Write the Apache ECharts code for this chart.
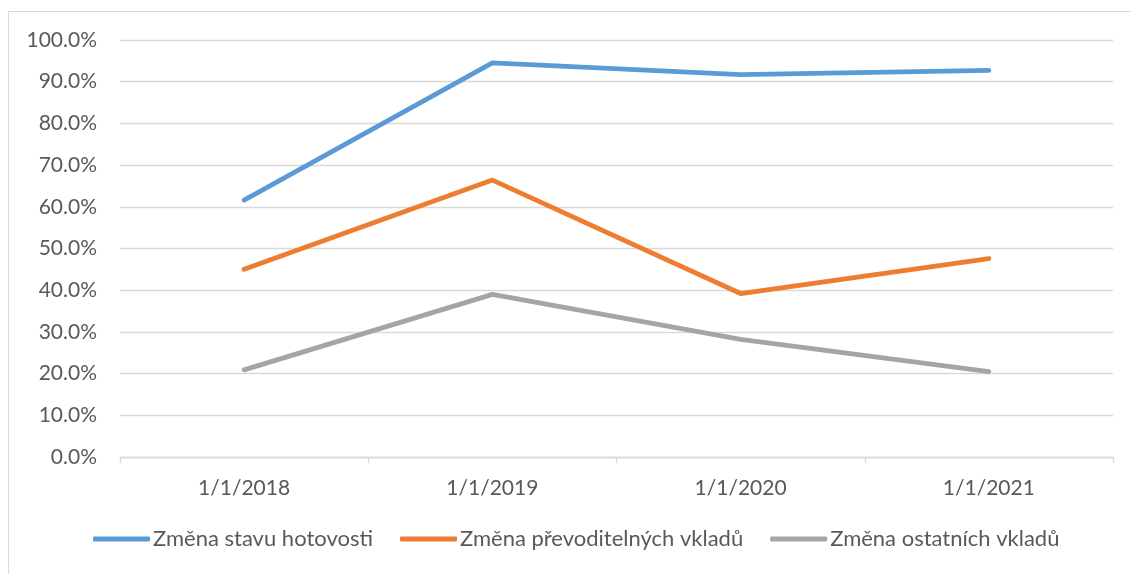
<!DOCTYPE html>
<html>
<head>
<meta charset="utf-8">
<script src="https://cdn.jsdelivr.net/npm/echarts@6/dist/echarts.min.js"></script>
<style>
  html, body { margin: 0; padding: 0; background: #fff; }
  .frame {
    position: absolute;
    left: 8px;
    top: 11px;
    width: 1200px;
    height: 700px;
    border-top: 1px solid #d9d9d9;
    border-left: 1px solid #d9d9d9;
  }
  #chart { position: absolute; left: 0; top: 0; width: 1131px; height: 574px; }
</style>
</head>
<body>
<div class="frame"></div>
<div id="chart"></div>
<script>
const categories = ["1/1/2018", "1/1/2019", "1/1/2020", "1/1/2021"];
const seriesNames = [
  "Změna stavu hotovosti",
  "Změna převoditelných vkladů",
  "Změna ostatních vkladů",
];
const hotovost = [61.6, 94.5, 91.7, 92.7];
const prevoditelne = [45.0, 66.4, 39.2, 47.6];
const ostatni = [20.9, 39.0, 28.2, 20.5];
const colors = ["#5B9BD5", "#ED7D31", "#A5A5A5"];

const myChart = echarts.init(document.getElementById("chart"));
const font = "Lato, 'Open Sans', sans-serif";

function lineSeries(name, data, color) {
  return {
    name: name,
    type: "line",
    data: data,
    symbol: "none",
    lineStyle: {
      color: color,
      width: 4.8,
      cap: "round",
      join: "round",
    },
    itemStyle: { color: color },
  };
}

const option = {
  animation: false,
  textStyle: { fontFamily: font },
  grid: {
    left: 120,
    right: 18,
    top: 40,
    bottom: 117,
    containLabel: false,
  },
  legend: {
    left: 93,
    top: 528,
    padding: 0,
    itemWidth: 57,
    itemHeight: 5,
    itemGap: 27,
    icon: "roundRect",
    textStyle: {
      fontFamily: font,
      fontSize: 22,
      color: "#595959",
      padding: [0, 0, 0, -2],
    },
    data: seriesNames,
  },
  xAxis: {
    type: "category",
    data: categories,
    boundaryGap: true,
    axisLine: { lineStyle: { color: "#d9d9d9", width: 1.3 } },
    axisTick: {
      show: true,
      length: 6,
      lineStyle: { color: "#d9d9d9", width: 1.3 },
    },
    axisLabel: {
      color: "#595959",
      fontSize: 21,
      fontFamily: font,
      margin: 21,
    },
    splitLine: { show: false },
  },
  yAxis: {
    type: "value",
    min: 0,
    max: 100,
    interval: 10,
    axisLine: { show: false },
    axisTick: { show: false },
    axisLabel: {
      color: "#595959",
      fontSize: 21,
      fontFamily: font,
      margin: 23,
      formatter: function (v) {
        return v.toFixed(1) + "%";
      },
    },
    splitLine: {
      show: true,
      lineStyle: { color: "#d9d9d9", width: 1.3 },
    },
  },
  series: [
    lineSeries(seriesNames[0], hotovost, colors[0]),
    lineSeries(seriesNames[1], prevoditelne, colors[1]),
    lineSeries(seriesNames[2], ostatni, colors[2]),
  ],
};

myChart.setOption(option);
window.addEventListener("resize", function () {
  myChart.resize();
});
</script>
</body>
</html>
